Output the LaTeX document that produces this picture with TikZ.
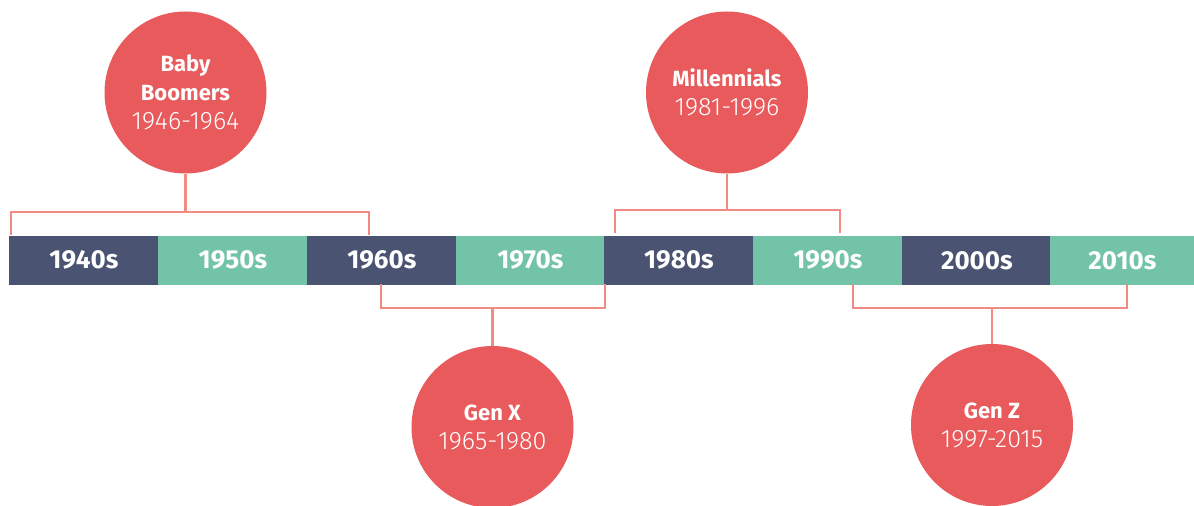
\documentclass[tikz,border=0pt]{standalone}
\usepackage{fontspec}
\setmainfont{Fira Sans}
\newfontfamily\lightfont{Fira Sans Light}
\definecolor{circ}{HTML}{E85A5C}
\definecolor{conn}{HTML}{F08A82}
\definecolor{navy}{HTML}{4A5372}
\definecolor{teal}{HTML}{72C3A8}
\tikzset{
  seg/.style={draw=none,fill=#1,minimum height=24.4pt,inner sep=0pt,anchor=north west,text=white,font=\fontsize{13}{15}\selectfont\bfseries},
  gen/.style={circle,fill=circ,minimum size=81pt,inner sep=0pt,text=white,align=center,font=\fontsize{11}{14.5}\selectfont},
  link/.style={draw=conn,line width=1.4pt},
}
\newcommand{\gname}[1]{{\fontsize{11}{14.5}\selectfont\bfseries #1}}
\newcommand{\gyear}[1]{{\fontsize{12.6}{14.5}\selectfont\lightfont #1}}
\begin{document}
\begin{tikzpicture}[x=0.5pt,y=-0.5pt]
\clip (0,0) rectangle (1194,506);
% bar
\node[seg=navy,minimum width=74.5pt] (s40) at (9,235.5) {1940s};
\node[seg=teal,minimum width=74.5pt] (s50) at (158,235.5) {1950s};
\node[seg=navy,minimum width=74.5pt] (s60) at (307,235.5) {1960s};
\node[seg=teal,minimum width=74.5pt] (s70) at (455.5,235.5) {1970s};
\node[seg=navy,minimum width=74.5pt] (s80) at (604,235.5) {1980s};
\node[seg=teal,minimum width=74.5pt] (s90) at (753,235.5) {1990s};
\node[seg=navy,minimum width=74.5pt] (s00) at (902,235.5) {2000s};
\node[seg=teal,minimum width=72pt] (s10) at (1050,235.5) {2010s};
% circles
\node[gen] (bb) at (185.5,92.5) {\gname{Baby}\\\gname{Boomers}\\\gyear{1946-1964}};
\node[gen] (mil) at (727,92.5) {\gname{Millennials}\\\gyear{1981-1996}};
\node[gen] (gx) at (492.5,427) {\gname{Gen X}\\\gyear{1965-1980}};
\node[gen] (gz) at (992,425) {\gname{Gen Z}\\\gyear{1997-2015}};
% bracket coordinates
\coordinate (bbL) at (11,235.5);
\coordinate (bbJ) at (185.5,212);
\coordinate (bbR) at (369,235.5);
\coordinate (miL) at (615,233);
\coordinate (miJ) at (727,210);
\coordinate (miR) at (840,233);
\coordinate (gxL) at (381,284);
\coordinate (gxJ) at (492.5,308);
\coordinate (gxR) at (605,284);
\coordinate (gzL) at (853,284);
\coordinate (gzJ) at (992,308);
\coordinate (gzR) at (1127,284);
% connectors
\draw[link] (bbL) |- (bbJ) -| (bbR);
\draw[link] (bb.south) -- (bbJ);
\draw[link] (miL) |- (miJ) -| (miR);
\draw[link] (mil.south) -- (miJ);
\draw[link] (gxL) |- (gxJ) -| (gxR);
\draw[link] (gx.north) -- (gxJ);
\draw[link] (gzL) |- (gzJ) -| (gzR);
\draw[link] (gz.north) -- (gzJ);
\end{tikzpicture}
\end{document}
